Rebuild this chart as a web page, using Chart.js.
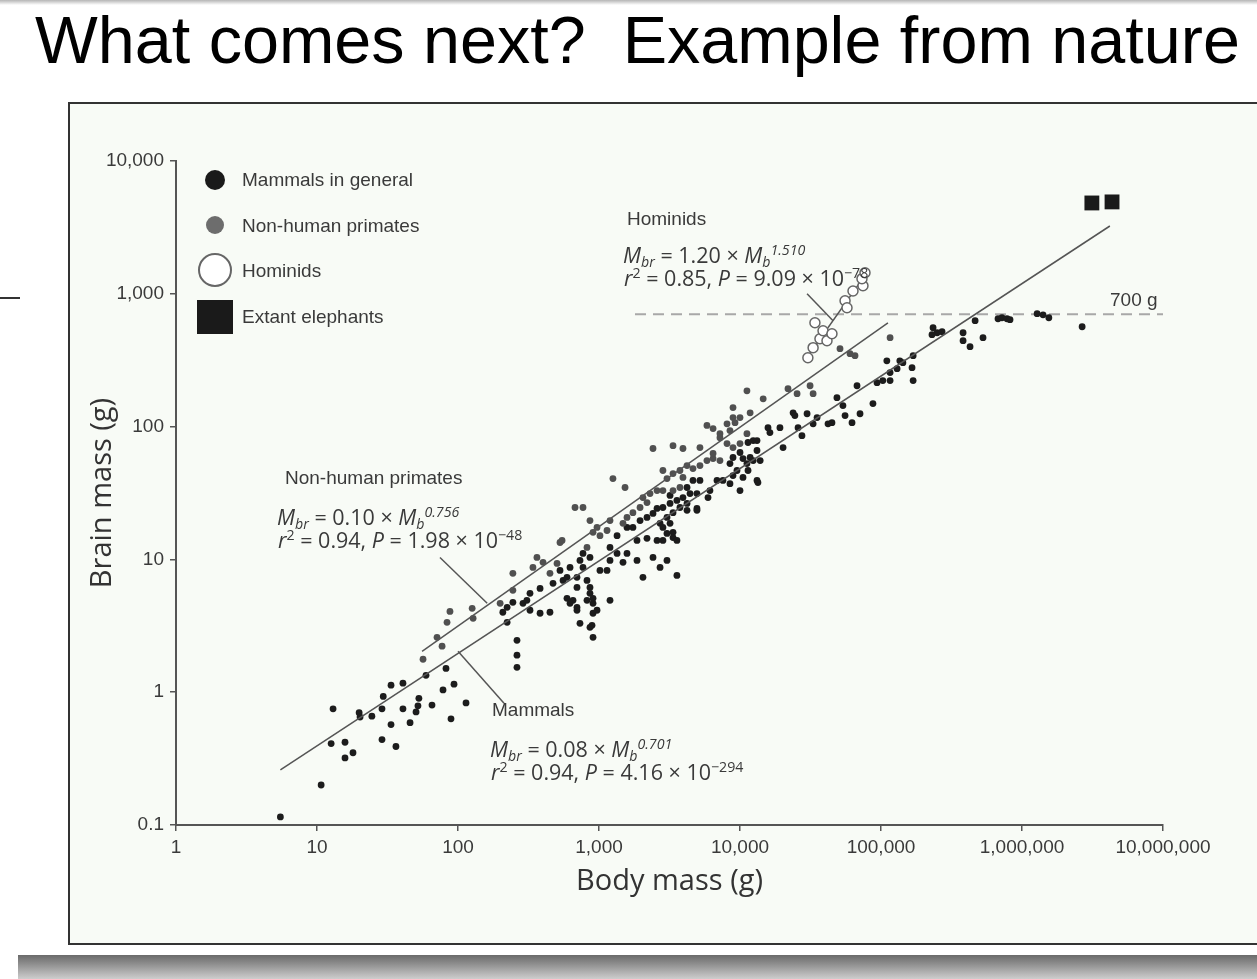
<!DOCTYPE html>
<html>
<head>
<meta charset="utf-8">
<script src="https://cdn.jsdelivr.net/npm/chart.js@4.4.1/dist/chart.umd.min.js"></script>
<style>
  html, body { margin: 0; padding: 0; background: #fff; }
  body { width: 1257px; height: 979px; position: relative; overflow: hidden; }
  .title { position: absolute; left: 35px; top: 7px; font: 66.5px "Liberation Sans", Arial, sans-serif; line-height: 1; color: #000; white-space: pre; }
  .frame { position: absolute; left: 68px; top: 102px; width: 1300px; height: 843px; box-sizing: border-box; border: 2px solid #333; background: #f8fbf6; }
  #chartWrap { position: absolute; left: 70px; top: 104px; width: 1187px; height: 837px; }
  .lab { position: absolute; font: 19px "Liberation Sans", Arial, sans-serif; line-height: 1; color: #3a3a3a; white-space: nowrap; }
  .eq { position: absolute; font: 21.5px "Open Sans", sans-serif; line-height: 1; color: #3a3a3a; white-space: nowrap; }
  .sb { font-size: 0.66em; position: relative; top: 0.3em; }
  .sp { font-size: 0.66em; position: relative; top: -0.55em; }
  .mk { position: absolute; box-sizing: border-box; }
  .band { position: absolute; left: 18px; top: 955px; width: 1239px; height: 24px; background: linear-gradient(to bottom, #6a6a6a 0, #8c8c8c 35%, #cdcdcd 100%); }
  .topband { position: absolute; left: 0; top: 0; width: 1257px; height: 5px; background: linear-gradient(to bottom, #b5b5b5, rgba(255,255,255,0)); }
</style>
</head>
<body>
<div class="topband"></div>
<div class="title">What comes next?  Example from nature</div>
<div class="mk" style="left:0;top:297px;width:20px;height:2px;background:#333"></div>
<div class="frame"></div>
<div id="chartWrap"><canvas id="brainChart" width="1187" height="837"></canvas></div>

<!-- legend -->
<div class="mk" style="left:205px;top:170px;width:20px;height:20px;border-radius:50%;background:#1a1a1a"></div>
<div class="mk" style="left:206px;top:216px;width:18px;height:18px;border-radius:50%;background:#6d6d6d"></div>
<div class="mk" style="left:198px;top:253px;width:34px;height:34px;border-radius:50%;border:2px solid #666;background:#fff"></div>
<div class="mk" style="left:197px;top:300px;width:36px;height:34px;background:#1a1a1a"></div>
<div class="lab" style="left:242px;top:170px">Mammals in general</div>
<div class="lab" style="left:242px;top:216px">Non-human primates</div>
<div class="lab" style="left:242px;top:261px">Hominids</div>
<div class="lab" style="left:242px;top:307px">Extant elephants</div>

<!-- annotations -->
<div class="lab" style="left:627px;top:209px">Hominids</div>
<div class="eq" style="left:623px;top:244px"><i>M</i><span class="sb"><i>br</i></span> = 1.20 × <i>M</i><span class="sb"><i>b</i></span><span class="sp"><i>1.510</i></span></div>
<div class="eq" style="left:624px;top:267px"><i>r</i><span class="sp">2</span> = 0.85, <i>P</i> = 9.09 × 10<span class="sp">−78</span></div>

<div class="lab" style="left:285px;top:468px">Non-human primates</div>
<div class="eq" style="left:277px;top:506px"><i>M</i><span class="sb"><i>br</i></span> = 0.10 × <i>M</i><span class="sb"><i>b</i></span><span class="sp"><i>0.756</i></span></div>
<div class="eq" style="left:278px;top:529px"><i>r</i><span class="sp">2</span> = 0.94, <i>P</i> = 1.98 × 10<span class="sp">−48</span></div>

<div class="lab" style="left:492px;top:700px">Mammals</div>
<div class="eq" style="left:490px;top:738px"><i>M</i><span class="sb"><i>br</i></span> = 0.08 × <i>M</i><span class="sb"><i>b</i></span><span class="sp"><i>0.701</i></span></div>
<div class="eq" style="left:491px;top:761px"><i>r</i><span class="sp">2</span> = 0.94, <i>P</i> = 4.16 × 10<span class="sp">−294</span></div>

<div class="lab" style="left:1110px;top:290px">700 g</div>

<div class="band"></div>

<script>
// axis ticks
const xTickValues = [1, 10, 100, 1000, 10000, 100000, 1000000, 10000000];
const xTickLabels = ['1', '10', '100', '1,000', '10,000', '100,000', '1,000,000', '10,000,000'];
const yTickValues = [0.1, 1, 10, 100, 1000, 10000];
const yTickLabels = ['0.1', '1', '10', '100', '1,000', '10,000'];

// [body mass g, brain mass g]
const mammals = [
  [5.5,0.115],[10.7,0.2],[12.6,0.41],[15.8,0.42],[15.8,0.32],[18,0.35],[13,0.75],[19.9,0.7],[20.2,0.65],[24.5,0.66],
  [28.9,0.75],[29.5,0.93],[33.5,1.13],[40.7,1.17],[33.5,0.57],[28.9,0.44],[36.3,0.39],[40.7,0.75],[45.7,0.59],[50.4,0.71],
  [52,0.79],[52.8,0.9],[59.3,1.34],[65.4,0.8],[78.3,1.04],[82.2,1.51],[93.7,1.15],[89.2,0.63],[114,0.83],
  [208,4.0],[223,3.36],[262,2.46],[262,1.9],[262,1.54],[245,4.75],[289,4.67],[308,4.92],[449,4.0],[654,4.92],[698,4.36],
  [863,5.55],[907,4.67],[907,3.93],[968,4.14],[698,6.15],[863,6.15],[863,3.08],[907,2.59],[733,3.3],[324,4.14],[382,3.93],[223,4.36],
  [382,6.05],[324,5.55],[472,6.6],[556,6.95],[593,7.33],[698,7.33],[822,6.95],[1016,8.26],[1140,8.26],[1197,9.82],[1343,11.1],[1580,11.1],
  [770,8.7],[733,9.82],[623,8.7],[529,8.26],[770,11.1],[863,10.35],[1197,12.3],[1480,9.5],[1860,9.82],[2415,10.35],[2710,8.7],[3035,9.82],
  [2050,7.33],[3570,7.58],[907,5.09],[822,4.92],[1197,4.92],[593,5.09],[623,4.67],[698,4.14],[892,3.19],
  [1860,13.9],[2190,14.4],[2580,13.9],[2840,13.9],[3035,15.7],[3350,16.0],[3350,14.6],[3570,13.9],[1343,15.1],[1580,17.4],[1740,17.4],
  [1955,19.6],[2190,20.7],[2415,22.2],[2580,24.2],[2840,24.6],[3190,26.4],[3570,27.8],[3940,29.2],[4420,31.3],[4950,31.3],[4210,26.4],
  [3750,24.6],[3350,22.5],[3035,20.7],[2710,18.7],[2840,17.4],[3190,18.7],[4210,23.4],[4950,24.2],[3190,30.3],[4210,34.8],[6120,33.0],
  [5930,29.2],[5200,39.3],[4640,39.3],[6870,39.3],[7570,39.3],[8490,37.2],[10000,33.0],[13200,39.3],[11400,46.7],[8920,42.8],[9520,46.7],
  [8490,52.7],[11200,52.7],[12400,55.5],[10500,57.4],[10000,63.8],[13200,66.1],[8920,58.5],[11400,75.9],[12400,78.5],[4950,23.4],
  [10500,41.4],[13400,37.9],[11800,58.5],[13900,55.5],[13200,78.5],
  [15800,98.2],[16300,90.2],[19200,98.2],[20200,69.5],[25800,98.2],[27500,85.5],[23800,127],[24500,121],[29900,125],[33000,105],
  [35200,117],[42100,105],[44900,107],[48700,165],[53700,144],[55600,121],[62300,107],[71000,125],[67600,203],[87700,149],[93700,214],
  [103000,222],[116000,222],[110000,313],[116000,255],[130000,273],[136000,313],[166000,278],[169000,222],[169000,342],[234000,555],
  [250000,509],[143000,303],[230000,492],[271000,518],[382000,509],[382000,444],[428000,400],[465000,627],[529000,467],[676000,649],
  [721000,660],[783000,649],[822000,638],[1280000,708],[1410000,695],[1550000,660],[2670000,565]
];

const primates = [
  [56.5,1.77],[71,2.59],[83.6,3.36],[77.1,2.22],[87.7,4.06],[126,4.28],[128,3.6],[199,4.67],[245,5.85],[340,8.7],
  [449,7.85],[504,9.33],[822,12.3],[1197,19.6],[1140,16.5],[1016,15.1],[907,16.0],[968,17.4],[863,19.6],[1480,18.7],
  [1580,20.7],[1740,22.5],[1955,24.6],[2190,26.8],[2050,29.2],[2300,31.3],[2580,33.0],[2840,33.0],[3350,33.0],[3750,34.8],
  [3940,41.4],[3035,40.6],[3350,44.3],[3750,46.7],[4210,50.9],[4640,48.3],[5200,50.9],[5830,55.5],[6440,57.4],[8920,69.5],
  [8090,74.5],[10000,74.5],[11200,88.5],[7210,82.6],[8490,93.3],[8090,105],[10000,117],[8920,117],[11800,127],[1256,40.6],
  [1530,34.8],[2840,46.7],[529,13.4],[363,10.35],[245,7.85],[547,13.9],[7210,55.5],[6440,62.7],[116000,467],[60300,354],
  [65400,342],[51200,386],[676,24.6],[770,24.6],[401,9.5],[2415,68.4],[3350,71.9],[3940,68.4],[5200,69.5],[5830,102],
  [6440,96.6],[7210,88.5],[11200,186],[14600,162],[21900,193],[25400,177],[31400,203],[33000,177],[8920,139],[9220,107]
];

const hominids = [
  [30300,330],[33000,393],[34000,605],[36900,459],[38800,527],[41400,443],[44900,500],
  [55600,886],[57400,785],[63300,1050],[74500,1150],[73300,1300],[77000,1440]
];

const elephants = [[3130000,4830],[4350000,4920]];

// regression lines and guides (end points)
const mammalFit = [[5.5,0.26],[4200000,3240]];
const primateFit = [[55.6,2.03],[112000,605]];
const hominidFit = [[29400,324],[78300,1413]];
const line700 = [[1800,700],[10000000,700]];
const hominidLeader = [[29900,1000],[45700,627]];
const primateLeader = [[74.5,10.35],[161,4.67]];
const mammalLeader = [[100,2.03],[212,0.826]];

const toXY = arr => arr.map(([x, y]) => ({ x, y }));

function lineSet(arr, color, width, dash) {
  return {
    data: toXY(arr),
    showLine: true,
    borderColor: color,
    borderWidth: width,
    borderDash: dash || [],
    pointRadius: 0,
    fill: false
  };
}

const ctx = document.getElementById('brainChart').getContext('2d');

new Chart(ctx, {
  type: 'scatter',
  data: {
    datasets: [
      {
        data: toXY(hominids),
        pointRadius: 5,
        pointBackgroundColor: '#ffffff',
        pointBorderColor: '#666',
        pointBorderWidth: 1.5
      },
      {
        data: toXY(elephants),
        pointStyle: 'rect',
        pointRadius: 10.5,
        pointBackgroundColor: '#1a1a1a',
        pointBorderWidth: 0
      },
      lineSet(hominidFit, '#555', 1.5),
      lineSet(mammalFit, '#555', 1.5),
      lineSet(primateFit, '#555', 1.5),
      lineSet(hominidLeader, '#555', 1.5),
      lineSet(primateLeader, '#555', 1.5),
      lineSet(mammalLeader, '#555', 1.5),
      {
        data: toXY(primates),
        pointRadius: 3.4,
        pointBackgroundColor: '#505050',
        pointBorderWidth: 0
      },
      {
        data: toXY(mammals),
        pointRadius: 3.4,
        pointBackgroundColor: '#1c1c1c',
        pointBorderWidth: 0
      },
      lineSet(line700, '#a8a8a8', 2, [11, 7])
    ]
  },
  options: {
    responsive: false,
    devicePixelRatio: 1,
    animation: false,
    events: [],
    layout: { padding: { top: 57, right: 94, left: 0, bottom: 0 } },
    plugins: {
      legend: { display: false },
      tooltip: { enabled: false }
    },
    scales: {
      x: {
        type: 'logarithmic',
        min: 1,
        max: 10000000,
        afterBuildTicks: scale => { scale.ticks = xTickValues.map(v => ({ value: v })); },
        afterFit: scale => { scale.height = 116; },
        ticks: {
          autoSkip: false,
          maxRotation: 0,
          padding: 5,
          color: '#3a3a3a',
          font: { family: 'Liberation Sans', size: 19 },
          callback: (value, index) => xTickLabels[index]
        },
        grid: { drawOnChartArea: false, drawTicks: true, tickLength: 6, color: '#555', lineWidth: 1.5 },
        border: { display: true, color: '#555', width: 2 },
        title: {
          display: true,
          text: 'Body mass (g)',
          color: '#333',
          font: { family: 'Open Sans', size: 29 },
          padding: { top: 0, bottom: 42 }
        }
      },
      y: {
        type: 'logarithmic',
        min: 0.1,
        max: 10000,
        afterBuildTicks: scale => { scale.ticks = yTickValues.map(v => ({ value: v })); },
        afterFit: scale => { scale.width = 106; },
        ticks: {
          autoSkip: false,
          padding: 6,
          color: '#3a3a3a',
          font: { family: 'Liberation Sans', size: 19 },
          callback: (value, index) => yTickLabels[index]
        },
        grid: { drawOnChartArea: false, drawTicks: true, tickLength: 6, color: '#555', lineWidth: 1.5 },
        border: { display: true, color: '#555', width: 2 },
        title: {
          display: true,
          text: 'Brain mass (g)',
          color: '#333',
          font: { family: 'Open Sans', size: 29 },
          padding: { top: 15, bottom: 0 }
        }
      }
    }
  }
});
</script>
</body>
</html>
